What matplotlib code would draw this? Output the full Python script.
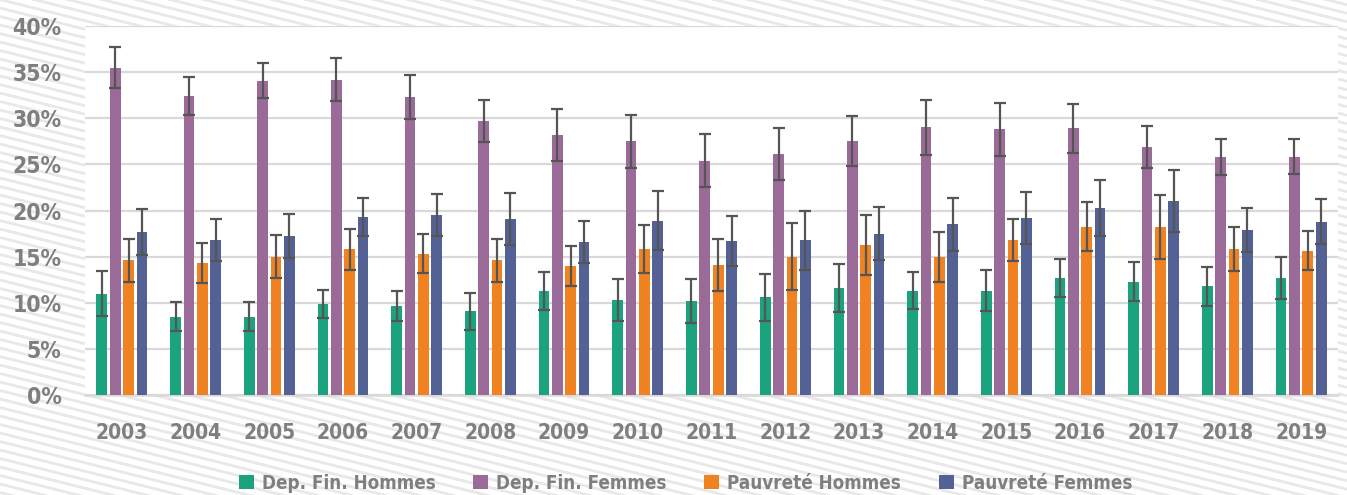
import matplotlib
matplotlib.use("Agg")
import matplotlib.pyplot as plt
import numpy as np
from matplotlib.patches import Patch
from matplotlib.font_manager import FontProperties

years = [str(y) for y in range(2003, 2020)]
series_names = ["Dep. Fin. Hommes", "Dep. Fin. Femmes", "Pauvreté Hommes", "Pauvreté Femmes"]
dep_h = [11.0, 8.5, 8.5, 9.9, 9.65, 9.1, 11.3, 10.3, 10.2, 10.6, 11.6, 11.3, 11.3, 12.65, 12.3, 11.8, 12.7]
dep_h_err = [2.4, 1.55, 1.6, 1.5, 1.6, 2.0, 2.05, 2.3, 2.35, 2.55, 2.55, 2.0, 2.2, 2.05, 2.15, 2.1, 2.25]
dep_f = [35.5, 32.4, 34.05, 34.2, 32.3, 29.7, 28.2, 27.5, 25.4, 26.1, 27.5, 29.0, 28.8, 28.9, 26.9, 25.8, 25.85]
dep_f_err = [2.2, 2.1, 1.9, 2.3, 2.4, 2.3, 2.8, 2.9, 2.85, 2.8, 2.7, 3.0, 2.85, 2.65, 2.25, 1.9, 1.85]
pauv_h = [14.6, 14.3, 15.0, 15.8, 15.3, 14.6, 14.0, 15.8, 14.1, 15.0, 16.3, 15.0, 16.8, 18.25, 18.2, 15.8, 15.65]
pauv_h_err = [2.3, 2.2, 2.3, 2.2, 2.1, 2.3, 2.15, 2.6, 2.85, 3.6, 3.25, 2.7, 2.25, 2.65, 3.5, 2.4, 2.1]
pauv_f = [17.7, 16.8, 17.2, 19.3, 19.5, 19.1, 16.6, 18.9, 16.7, 16.8, 17.5, 18.5, 19.2, 20.3, 21.0, 17.9, 18.8]
pauv_f_err = [2.5, 2.3, 2.4, 2.1, 2.3, 2.8, 2.3, 3.2, 2.75, 3.2, 2.9, 2.85, 2.85, 3.05, 3.35, 2.35, 2.45]
yticks = [0, 5, 10, 15, 20, 25, 30, 35, 40]

colors = ["#1BA37F", "#9A6B98", "#F08221", "#536195"]
text_color = "#7F7F7F"

plt.rcParams['font.family'] = ['DejaVu Sans']


def fprop(size):
    return FontProperties(family='DejaVu Sans', stretch='condensed', weight='bold', size=size)


fig = plt.figure(figsize=(13.47, 4.95), dpi=100)

# background stripes
bg = fig.add_axes([0, 0, 1, 1], zorder=-10)
bg.set_xlim(0, 1347)
bg.set_ylim(495, 0)
bg.axis('off')
slope = 0.25
for y0 in np.arange(-400, 520, 8.5):
    bg.plot([0, 1347], [y0, y0 + 1347 * slope], color="#E8E8E8", lw=2.0, solid_capstyle='butt')

ax = fig.add_axes([85 / 1347, 1 - 395 / 495, (1338 - 85) / 1347, (395 - 26) / 495])
ax.set_facecolor("white")

x = np.arange(len(years))
w = 0.145
step = 0.181
data = [(dep_h, dep_h_err), (dep_f, dep_f_err), (pauv_h, pauv_h_err), (pauv_f, pauv_f_err)]
for i, ((vals, errs), c) in enumerate(zip(data, colors)):
    off = (i - 1.5) * step
    ax.bar(x + off, vals, width=w, color=c, zorder=3, edgecolor='none')
    ax.errorbar(x + off, vals, yerr=errs, fmt='none', ecolor="#555555", elinewidth=1.6,
                capsize=4.3, capthick=1.6, zorder=4)

ax.set_xlim(-0.5, len(years) - 0.5)
ax.set_ylim(0, 40)
ax.set_yticks(yticks)
ax.set_yticklabels([f"{v}%" for v in yticks])
ax.set_xticks(x)
ax.set_xticklabels(years)
for lab in ax.get_yticklabels():
    lab.set_fontproperties(fprop(16.5))
    lab.set_color(text_color)
for lab in ax.get_xticklabels():
    lab.set_fontproperties(fprop(15))
    lab.set_color(text_color)
ax.tick_params(axis='y', length=0, pad=17)
ax.tick_params(axis='x', length=0, pad=20)
ax.grid(axis='y', color="#D9D9D9", lw=1.6, zorder=1)
for s in ['top', 'right', 'left']:
    ax.spines[s].set_visible(False)
ax.spines['bottom'].set_color("#D9D9D9")
ax.spines['bottom'].set_linewidth(1.8)
ax.spines['bottom'].set_zorder(2)

handles = [Patch(facecolor=c, edgecolor='none') for c in colors]
leg = fig.legend(handles, series_names, loc='center', bbox_to_anchor=(0.509, 0.024), ncol=4,
                 frameon=False, handlelength=0.8, handleheight=0.8, handletextpad=0.43,
                 columnspacing=2.0, prop=fprop(13.5))
for t in leg.get_texts():
    t.set_color(text_color)

fig.savefig("out.png", dpi=100)
